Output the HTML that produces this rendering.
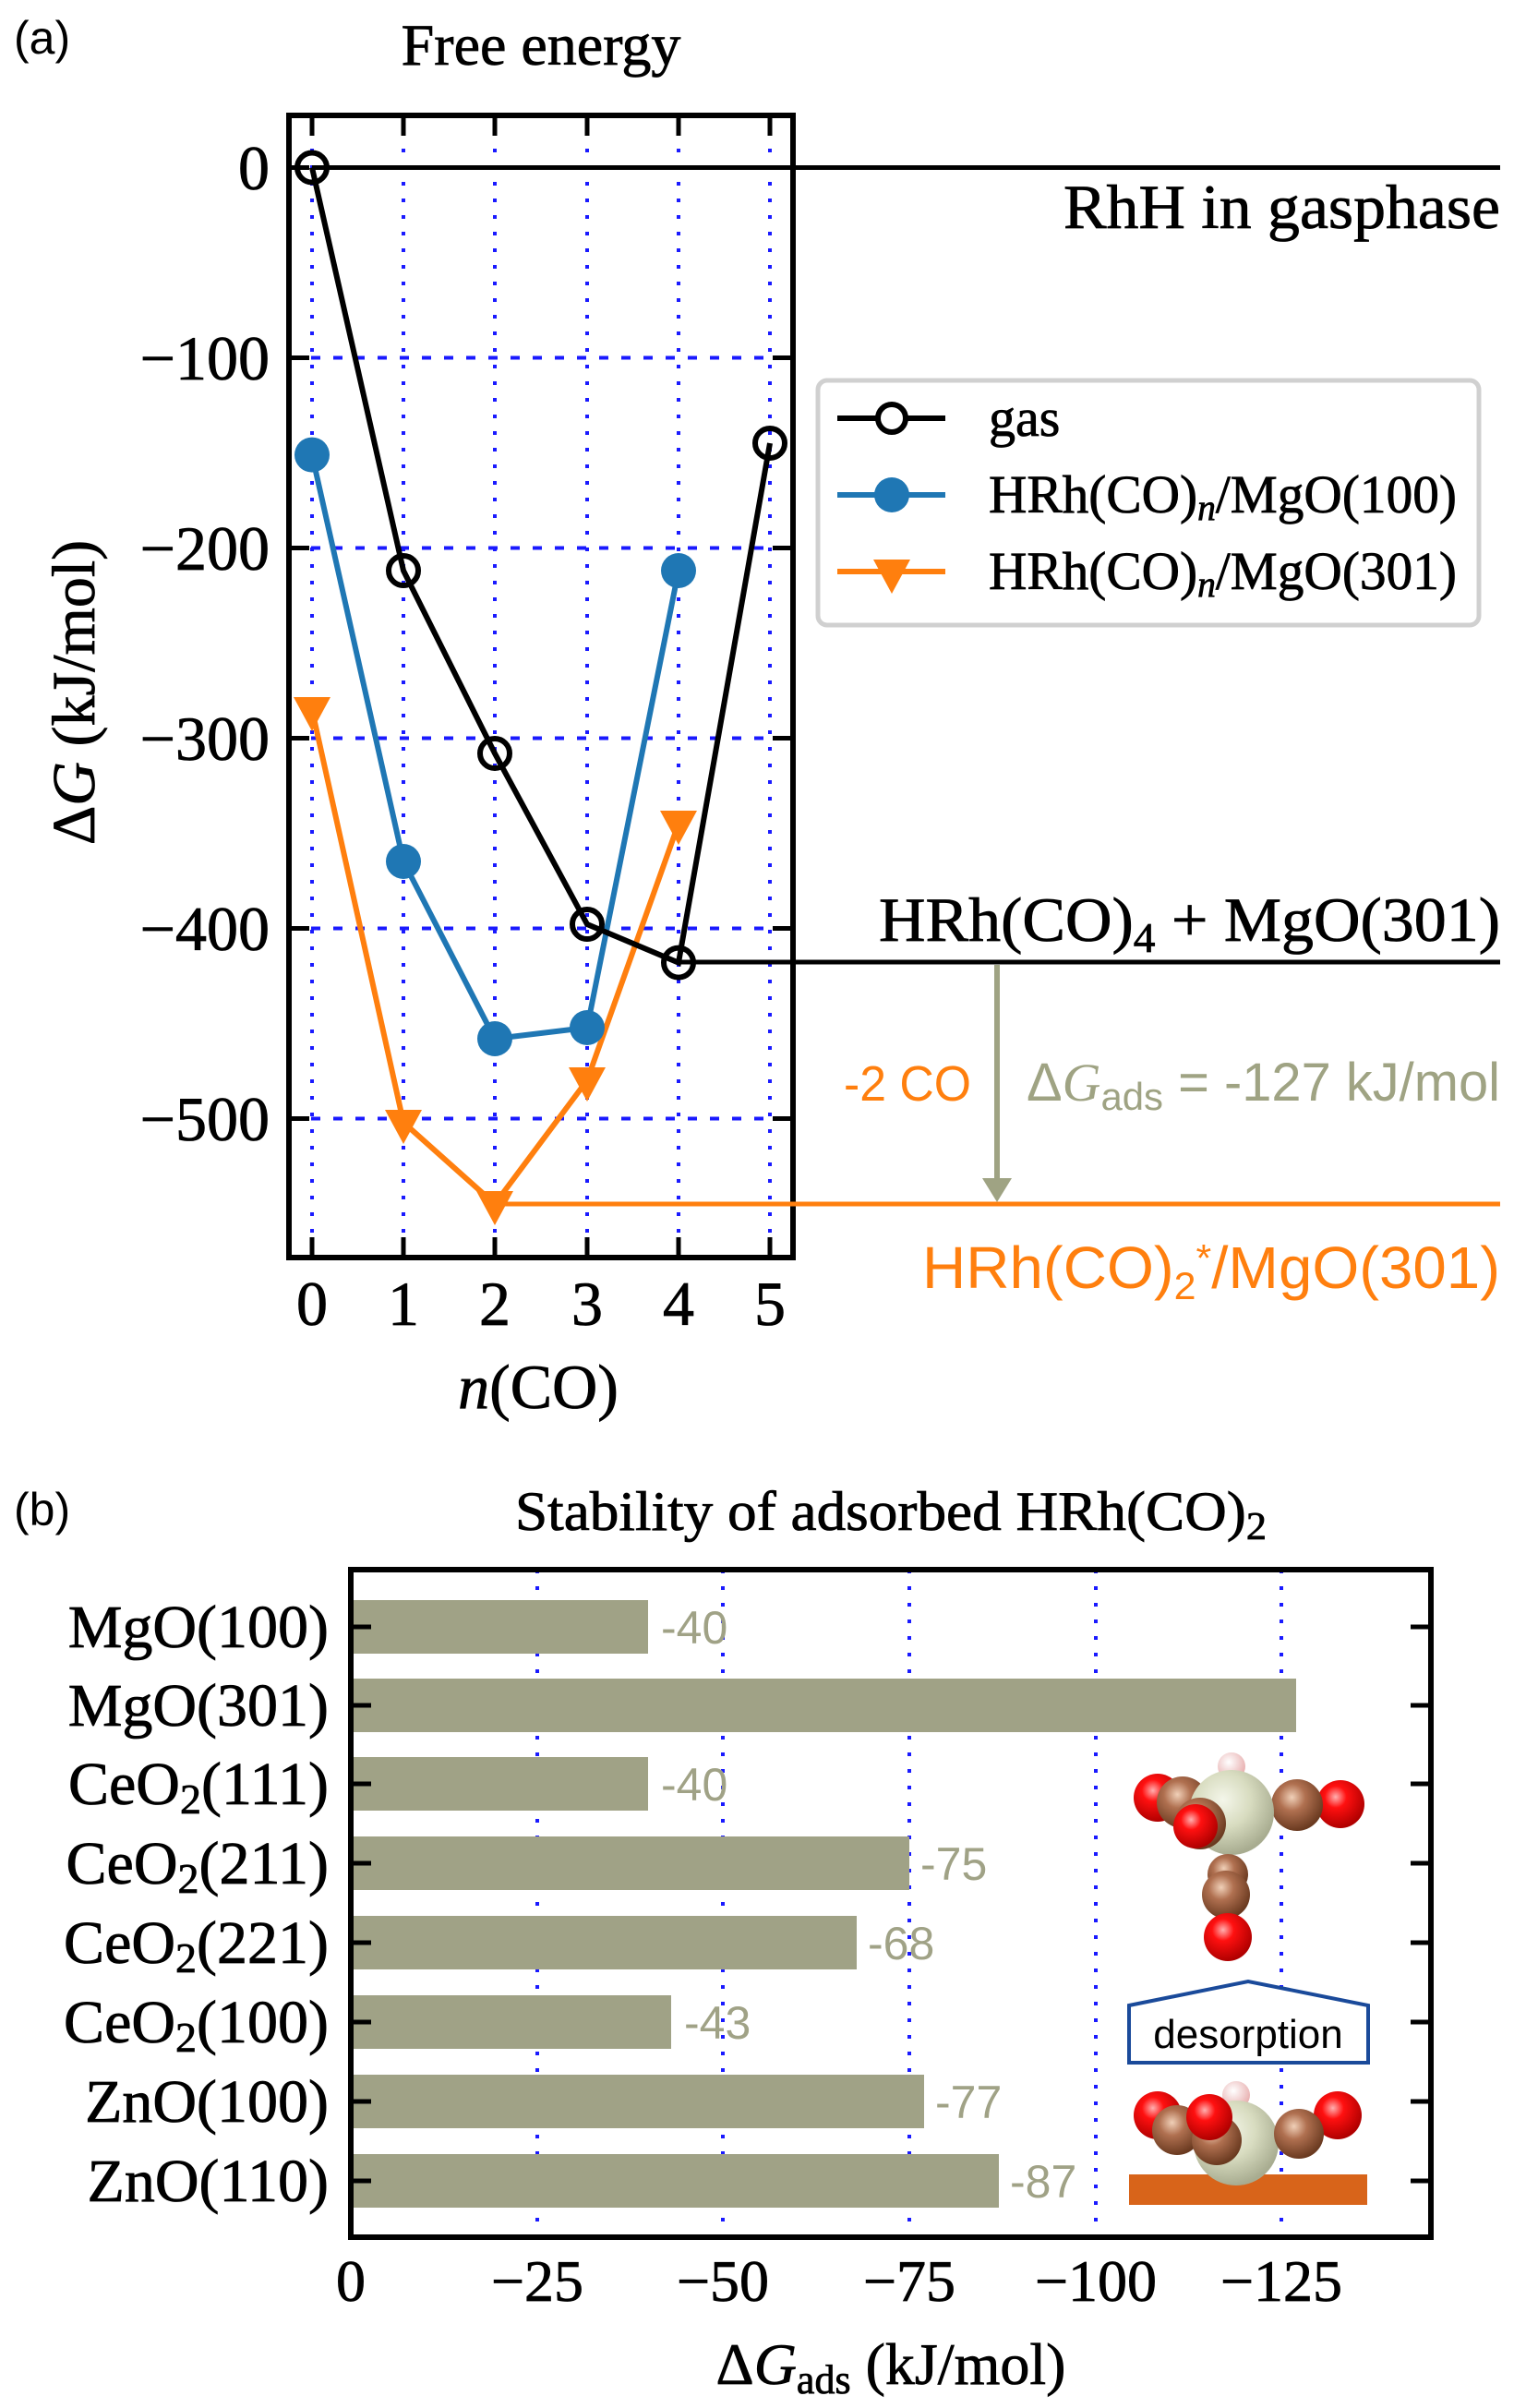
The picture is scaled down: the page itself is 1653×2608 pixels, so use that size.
<!DOCTYPE html>
<html><head><meta charset="utf-8"><style>
html,body{margin:0;padding:0;background:#fff;}
svg{display:block;}
.serif{font-family:"Liberation Serif","DejaVu Serif",serif;}
.sans{font-family:"Liberation Sans","DejaVu Sans",sans-serif;}
.bk{stroke:#000;stroke-width:0.8;}
</style></head><body>
<svg width="1653" height="2608" viewBox="0 0 1653 2608" xmlns="http://www.w3.org/2000/svg">
<defs>
<radialGradient id="gO" cx="40%" cy="35%" r="65%"><stop offset="0" stop-color="#ffb0b0"/><stop offset="0.35" stop-color="#ff1010"/><stop offset="1" stop-color="#b00000"/></radialGradient>
<radialGradient id="gC" cx="40%" cy="35%" r="65%"><stop offset="0" stop-color="#f0d0b8"/><stop offset="0.4" stop-color="#b07050"/><stop offset="1" stop-color="#6a3a20"/></radialGradient>
<radialGradient id="gRh" cx="40%" cy="35%" r="65%"><stop offset="0" stop-color="#f4f6ea"/><stop offset="0.5" stop-color="#d8dcc0"/><stop offset="1" stop-color="#a8ac90"/></radialGradient>
<radialGradient id="gH" cx="40%" cy="35%" r="65%"><stop offset="0" stop-color="#ffffff"/><stop offset="1" stop-color="#e8b0b0"/></radialGradient>
</defs>

<!-- Panel (a) -->
<text x="15" y="58" class="sans" font-size="50">(a)</text>
<text x="586" y="70" class="serif bk" font-size="64" text-anchor="middle">Free energy</text>

<g stroke="#1a1aff" stroke-width="4" stroke-dasharray="4,14">
<line x1="338" y1="125" x2="338" y2="1362"/><line x1="437" y1="125" x2="437" y2="1362"/><line x1="536" y1="125" x2="536" y2="1362"/><line x1="636" y1="125" x2="636" y2="1362"/><line x1="735" y1="125" x2="735" y2="1362"/><line x1="834" y1="125" x2="834" y2="1362"/>
</g>
<g stroke="#1a1aff" stroke-width="4" stroke-dasharray="10,14">
<line x1="313" y1="387.5" x2="859" y2="387.5"/><line x1="313" y1="593.5" x2="859" y2="593.5"/><line x1="313" y1="799.5" x2="859" y2="799.5"/><line x1="313" y1="1005.5" x2="859" y2="1005.5"/><line x1="313" y1="1211.5" x2="859" y2="1211.5"/>
</g>
<g stroke="#000" stroke-width="5">
<line x1="313" y1="181.5" x2="335" y2="181.5"/><line x1="313" y1="387.5" x2="335" y2="387.5"/><line x1="313" y1="593.5" x2="335" y2="593.5"/><line x1="313" y1="799.5" x2="335" y2="799.5"/><line x1="313" y1="1005.5" x2="335" y2="1005.5"/><line x1="313" y1="1211.5" x2="335" y2="1211.5"/>
<line x1="859" y1="181.5" x2="837" y2="181.5"/><line x1="859" y1="387.5" x2="837" y2="387.5"/><line x1="859" y1="593.5" x2="837" y2="593.5"/><line x1="859" y1="799.5" x2="837" y2="799.5"/><line x1="859" y1="1005.5" x2="837" y2="1005.5"/><line x1="859" y1="1211.5" x2="837" y2="1211.5"/>
<line x1="338" y1="125" x2="338" y2="147"/><line x1="437" y1="125" x2="437" y2="147"/><line x1="536" y1="125" x2="536" y2="147"/><line x1="636" y1="125" x2="636" y2="147"/><line x1="735" y1="125" x2="735" y2="147"/><line x1="834" y1="125" x2="834" y2="147"/>
<line x1="338" y1="1362" x2="338" y2="1340"/><line x1="437" y1="1362" x2="437" y2="1340"/><line x1="536" y1="1362" x2="536" y2="1340"/><line x1="636" y1="1362" x2="636" y2="1340"/><line x1="735" y1="1362" x2="735" y2="1340"/><line x1="834" y1="1362" x2="834" y2="1340"/>
</g>
<rect x="313" y="125" width="546" height="1237" fill="none" stroke="#000" stroke-width="6"/>

<line x1="338" y1="181.5" x2="1625" y2="181.5" stroke="#000" stroke-width="5"/>
<line x1="735" y1="1042" x2="1625" y2="1042" stroke="#000" stroke-width="5"/>
<line x1="536" y1="1304" x2="1625" y2="1304" stroke="#ff7f0e" stroke-width="5"/>
<line x1="1080" y1="1045" x2="1080" y2="1285" stroke="#9fa383" stroke-width="6"/>
<polygon points="1064,1276 1096,1276 1080,1302" fill="#9fa383"/>

<polyline points="338,768.6 437,1215.6 536,1304 636,1170 735,892" fill="none" stroke="#ff7f0e" stroke-width="6"/>
<g fill="#ff7f0e">
<polygon points="318,755 358,755 338,792"/><polygon points="417,1202 457,1202 437,1239"/><polygon points="516,1290 556,1290 536,1327"/><polygon points="616,1156 656,1156 636,1193"/><polygon points="715,878 755,878 735,915"/>
</g>
<polyline points="338,492.6 437,933 536,1125 636,1113 735,618" fill="none" stroke="#1f77b4" stroke-width="6"/>
<g fill="#1f77b4">
<circle cx="338" cy="492.6" r="19"/><circle cx="437" cy="933" r="19"/><circle cx="536" cy="1125" r="19"/><circle cx="636" cy="1113" r="19"/><circle cx="735" cy="618" r="19"/>
</g>
<polyline points="338,181.5 437,618 536,816 636,1001 735,1042.6 834,480" fill="none" stroke="#000" stroke-width="6"/>
<g fill="none" stroke="#000" stroke-width="6">
<circle cx="338" cy="181.5" r="16"/><circle cx="437" cy="618" r="16"/><circle cx="536" cy="816" r="16"/><circle cx="636" cy="1001" r="16"/><circle cx="735" cy="1042.6" r="16"/><circle cx="834" cy="480" r="16"/>
</g>

<g class="serif bk" font-size="68" text-anchor="end">
<text x="292" y="205">0</text><text x="292" y="411">−100</text><text x="292" y="617">−200</text><text x="292" y="823">−300</text><text x="292" y="1029">−400</text><text x="292" y="1235">−500</text>
</g>
<g class="serif bk" font-size="68" text-anchor="middle">
<text x="338" y="1435">0</text><text x="437" y="1435">1</text><text x="536" y="1435">2</text><text x="636" y="1435">3</text><text x="735" y="1435">4</text><text x="834" y="1435">5</text>
</g>
<text x="583" y="1525" class="serif bk" font-size="68" text-anchor="middle"><tspan font-style="italic">n</tspan>(CO)</text>
<text transform="translate(102,750) rotate(-90)" class="serif bk" font-size="66" text-anchor="middle">Δ<tspan font-style="italic">G</tspan> (kJ/mol)</text>

<rect x="886" y="412" width="716" height="265" rx="10" fill="#fff" stroke="#d0d0d0" stroke-width="5"/>
<line x1="907" y1="453" x2="1024" y2="453" stroke="#000" stroke-width="6"/><circle cx="966" cy="453" r="15" fill="#fff" stroke="#000" stroke-width="6"/>
<line x1="907" y1="536" x2="1024" y2="536" stroke="#1f77b4" stroke-width="6"/><circle cx="966" cy="536" r="19" fill="#1f77b4"/>
<line x1="907" y1="619" x2="1024" y2="619" stroke="#ff7f0e" stroke-width="6"/><polygon points="946,606 986,606 966,643" fill="#ff7f0e"/>
<g class="serif bk" font-size="58">
<text x="1071" y="472">gas</text>
<text x="1071" y="555" textLength="507" lengthAdjust="spacingAndGlyphs">HRh(CO)<tspan font-style="italic" font-size="40" dy="8">n</tspan><tspan dy="-8">/MgO(100)</tspan></text>
<text x="1071" y="638" textLength="507" lengthAdjust="spacingAndGlyphs">HRh(CO)<tspan font-style="italic" font-size="40" dy="8">n</tspan><tspan dy="-8">/MgO(301)</tspan></text>
</g>

<text x="1625" y="247" class="serif bk" font-size="68" text-anchor="end" textLength="473" lengthAdjust="spacingAndGlyphs">RhH in gasphase</text>
<text x="1625" y="1019" class="serif bk" font-size="68" text-anchor="end" textLength="673" lengthAdjust="spacingAndGlyphs">HRh(CO)<tspan font-size="46" dy="12">4</tspan><tspan dy="-12"> + MgO(301)</tspan></text>
<text x="914" y="1192" class="sans" font-size="54" fill="#ff7f0e" textLength="138" lengthAdjust="spacingAndGlyphs">-2 CO</text>
<text x="1112" y="1192" class="sans" font-size="58" fill="#9fa383" textLength="513" lengthAdjust="spacingAndGlyphs">Δ<tspan class="serif" font-style="italic">G</tspan><tspan font-size="42" dy="10">ads</tspan><tspan dy="-10"> = -127 kJ/mol</tspan></text>
<text x="1625" y="1395" class="sans" font-size="64" fill="#ff7f0e" text-anchor="end" textLength="626" lengthAdjust="spacingAndGlyphs">HRh(CO)<tspan font-size="42" dy="12">2</tspan><tspan font-size="42" dy="-30">*</tspan><tspan dy="18">/MgO(301)</tspan></text>

<!-- Panel (b) -->
<text x="15" y="1652" class="sans" font-size="50">(b)</text>
<text x="965" y="1657" class="serif bk" font-size="60" text-anchor="middle" textLength="814" lengthAdjust="spacingAndGlyphs">Stability of adsorbed HRh(CO)<tspan font-size="42" dy="10">2</tspan></text>

<g stroke="#1a1aff" stroke-width="4" stroke-dasharray="4,14">
<line x1="582" y1="1700" x2="582" y2="2423"/><line x1="783" y1="1700" x2="783" y2="2423"/><line x1="985" y1="1700" x2="985" y2="2423"/><line x1="1187" y1="1700" x2="1187" y2="2423"/><line x1="1388" y1="1700" x2="1388" y2="2423"/>
</g>
<g fill="#a0a286">
<rect x="380" y="1733" width="322" height="58"/>
<rect x="380" y="1818" width="1024" height="58"/>
<rect x="380" y="1903" width="322" height="58"/>
<rect x="380" y="1989" width="605" height="58"/>
<rect x="380" y="2075" width="548" height="58"/>
<rect x="380" y="2161" width="347" height="58"/>
<rect x="380" y="2247" width="621" height="58"/>
<rect x="380" y="2333" width="702" height="58"/>
</g>
<g class="sans" font-size="50" fill="#a0a286">
<text x="716" y="1780">-40</text>
<text x="716" y="1950">-40</text>
<text x="997" y="2036">-75</text>
<text x="940" y="2122">-68</text>
<text x="741" y="2208">-43</text>
<text x="1013" y="2294">-77</text>
<text x="1094" y="2380">-87</text>
</g>
<g stroke="#000" stroke-width="5">
<line x1="380" y1="1762" x2="402" y2="1762"/><line x1="380" y1="1847" x2="402" y2="1847"/><line x1="380" y1="1932" x2="402" y2="1932"/><line x1="380" y1="2018" x2="402" y2="2018"/><line x1="380" y1="2104" x2="402" y2="2104"/><line x1="380" y1="2190" x2="402" y2="2190"/><line x1="380" y1="2276" x2="402" y2="2276"/><line x1="380" y1="2362" x2="402" y2="2362"/>
<line x1="1550" y1="1762" x2="1528" y2="1762"/><line x1="1550" y1="1847" x2="1528" y2="1847"/><line x1="1550" y1="1932" x2="1528" y2="1932"/><line x1="1550" y1="2018" x2="1528" y2="2018"/><line x1="1550" y1="2104" x2="1528" y2="2104"/><line x1="1550" y1="2190" x2="1528" y2="2190"/><line x1="1550" y1="2276" x2="1528" y2="2276"/><line x1="1550" y1="2362" x2="1528" y2="2362"/>
</g>
<rect x="380" y="1700" width="1170" height="723" fill="none" stroke="#000" stroke-width="6"/>
<g class="serif bk" font-size="66" text-anchor="end">
<text x="356" y="1784">MgO(100)</text>
<text x="356" y="1869">MgO(301)</text>
<text x="356" y="1954">CeO<tspan font-size="46" dy="10">2</tspan><tspan dy="-10">(111)</tspan></text>
<text x="356" y="2040">CeO<tspan font-size="46" dy="10">2</tspan><tspan dy="-10">(211)</tspan></text>
<text x="356" y="2126">CeO<tspan font-size="46" dy="10">2</tspan><tspan dy="-10">(221)</tspan></text>
<text x="356" y="2212">CeO<tspan font-size="46" dy="10">2</tspan><tspan dy="-10">(100)</tspan></text>
<text x="356" y="2298">ZnO(100)</text>
<text x="356" y="2384">ZnO(110)</text>
</g>
<g class="serif bk" font-size="64" text-anchor="middle">
<text x="380" y="2492">0</text><text x="582" y="2492">−25</text><text x="783" y="2492">−50</text><text x="985" y="2492">−75</text><text x="1187" y="2492">−100</text><text x="1388" y="2492">−125</text>
</g>
<text x="965" y="2582" class="serif bk" font-size="64" text-anchor="middle">Δ<tspan font-style="italic">G</tspan><tspan font-size="44" dy="10">ads</tspan><tspan dy="-10"> (kJ/mol)</tspan></text>

<circle cx="1334" cy="1913" r="15" fill="url(#gH)"/>
<circle cx="1254" cy="1947" r="26" fill="url(#gO)"/>
<circle cx="1452" cy="1954" r="26" fill="url(#gO)"/>
<circle cx="1281" cy="1952" r="28" fill="url(#gC)"/>
<circle cx="1405" cy="1955" r="28" fill="url(#gC)"/>
<circle cx="1334" cy="1963" r="46" fill="url(#gRh)"/>
<circle cx="1330" cy="2030" r="22" fill="url(#gC)"/>
<circle cx="1328" cy="2052" r="26" fill="url(#gC)"/>
<circle cx="1330" cy="2098" r="26" fill="url(#gO)"/>
<circle cx="1300" cy="1975" r="28" fill="url(#gC)"/>
<circle cx="1295" cy="1978" r="24" fill="url(#gO)"/>
<polygon points="1223,2172 1352,2146 1482,2172 1482,2234 1223,2234" fill="#fff" stroke="#1a4a9a" stroke-width="4"/>
<text x="1352" y="2218" class="sans" font-size="44" text-anchor="middle">desorption</text>
<rect x="1223" y="2355" width="258" height="33" fill="#d8641a"/>
<circle cx="1339" cy="2269" r="15" fill="url(#gH)"/>
<circle cx="1254" cy="2291" r="26" fill="url(#gO)"/>
<circle cx="1449" cy="2291" r="26" fill="url(#gO)"/>
<circle cx="1339" cy="2321" r="46" fill="url(#gRh)"/>
<circle cx="1275" cy="2307" r="27" fill="url(#gC)"/>
<circle cx="1407" cy="2311" r="27" fill="url(#gC)"/>
<circle cx="1318" cy="2318" r="27" fill="url(#gC)"/>
<circle cx="1310" cy="2293" r="25" fill="url(#gO)"/>
</svg>
</body></html>
